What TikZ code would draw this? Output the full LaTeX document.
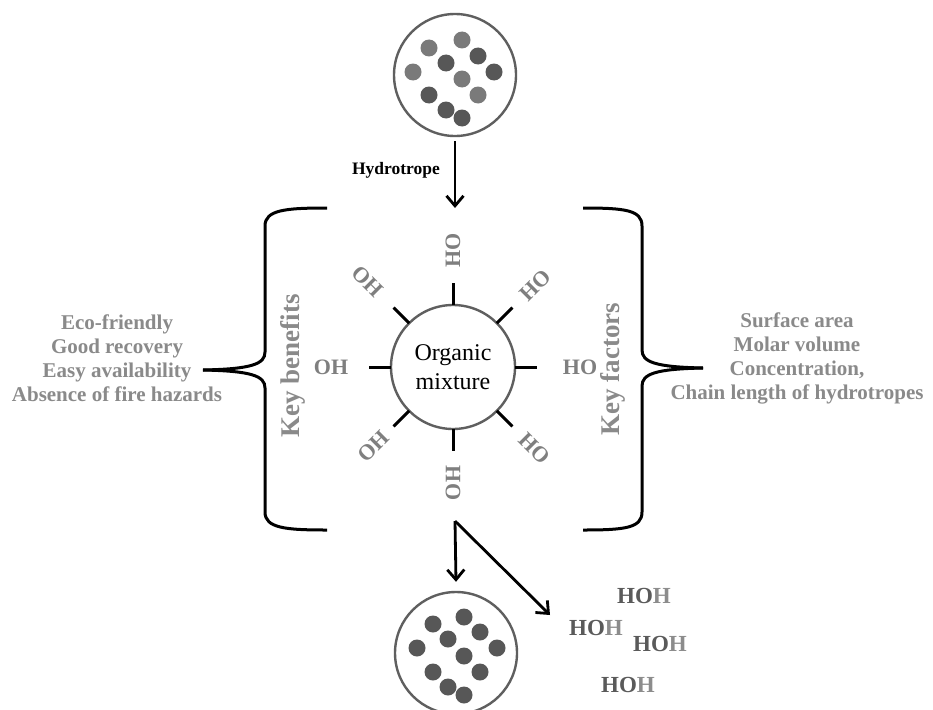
\documentclass[tikz,border=0pt]{standalone}
\usepackage{fontspec}
\setmainfont{Liberation Serif}
\usetikzlibrary{arrows.meta,calc}
\definecolor{lbl}{HTML}{7F7F7F}
\definecolor{txtg}{HTML}{8A8A8A}
\definecolor{dotl}{HTML}{7A7A7A}
\definecolor{dotd}{HTML}{575757}
\definecolor{ring}{HTML}{5F5F5F}
\definecolor{hohd}{HTML}{5A5A5A}
\definecolor{hohl}{HTML}{8C8C8C}
\begin{document}
\begin{tikzpicture}[x=1pt,y=-1pt,
  ringnode/.style={circle,draw=ring,line width=2.4pt,minimum size=122pt,inner sep=0pt},
  spoke/.style={line width=3pt,black},
  ohlabel/.style={text=lbl,font=\fontsize{22}{26}\selectfont\bfseries,inner sep=0pt},
  listtext/.style={text=txtg,font=\fontsize{21}{24}\selectfont\bfseries,align=center,inner sep=0pt},
  keytext/.style={text=txtg,font=\fontsize{27}{30}\selectfont\bfseries,inner sep=0pt,rotate=90},
  bracestyle/.style={line width=3pt,black},
  arr/.style={line width=2.8pt,black,-{Straight Barb[length=10pt,width=17pt,line width=2.8pt]}},
  hoh/.style={font=\fontsize{23}{26}\selectfont\bfseries,inner sep=0pt}
]
\useasboundingbox (0,0) rectangle (933,709);
\fill[white] (0,0) rectangle (933,709);

% top circle
\node[ringnode] (topc) at (455,75) {};
\begin{scope}[shift={(455,75)}]
  \foreach \dx/\dy/\c in {7/-35/dotl,-26/-27/dotl,23/-19/dotd,-9/-12/dotd,-42/-3/dotl,39/-3/dotd,7/4/dotl,-26/20/dotd,23/20/dotl,-9/35/dotd,7/43/dotd}
    \fill[\c] (\dx,\dy) circle[radius=8.5pt];
\end{scope}

% hydrotrope arrow
\coordinate (hyend) at (455,208);
\draw[arr,shorten <=4pt] (topc.south) -- (hyend);
\node[font=\fontsize{17.5}{20}\selectfont\bfseries,inner sep=0pt] (hydro) at (396,170) {Hydrotrope};

% central circle
\node[ringnode,minimum size=124pt,font=\fontsize{24}{29}\selectfont,align=center] (mid) at (453,367) {Organic\\mixture};
\foreach \a in {0,45,...,315}
  \draw[spoke] ($(mid)+(\a:62pt)$) -- ($(mid)+(\a:84pt)$);

% radial labels
\node[ohlabel,rotate=90] (l90) at ($(mid)+(90:117pt)$) {HO};
\node[ohlabel,rotate=45] (l45) at ($(mid)+(45:116pt)$) {HO};
\node[ohlabel] (l0) at ($(mid)+(0:127pt)$) {HO};
\node[ohlabel,rotate=-45] (l315) at ($(mid)+(-45:115pt)$) {HO};
\node[ohlabel,rotate=-90] (l270) at ($(mid)+(-90:116pt)$) {HO};
\node[ohlabel,rotate=45] (l225) at ($(mid)+(225:112pt)$) {OH};
\node[ohlabel] (l180) at ($(mid)+(180:122pt)$) {OH};
\node[ohlabel,rotate=-45] (l135) at ($(mid)+(135:121pt)$) {OH};

% left brace
\coordinate (lbtop) at (327,208);
\coordinate (lbbot) at (327,530);
\coordinate (lbtip) at (203,370);
\draw[bracestyle] (lbtop) .. controls (285,208) and (265,210) .. (265,226) -- (265,352)
   .. controls (265,364) and (252,369) .. (lbtip);
\draw[bracestyle] (lbbot) .. controls (285,530) and (265,528) .. (265,512) -- (265,388)
   .. controls (265,376) and (252,371) .. (lbtip);

% right brace
\coordinate (rbtop) at (583,208);
\coordinate (rbbot) at (583,530);
\coordinate (rbtip) at (703,368);
\draw[bracestyle] (rbtop) .. controls (625,208) and (642,210) .. (642,226) -- (642,350)
   .. controls (642,362) and (655,367) .. (rbtip);
\draw[bracestyle] (rbbot) .. controls (625,530) and (642,528) .. (642,512) -- (642,386)
   .. controls (642,374) and (655,369) .. (rbtip);

% key texts
\node[keytext] (kb) at (293,366) {Key benefits};
\node[keytext] (kf) at (613,369) {Key factors};

\node[listtext] (ben) at (117,358) {Eco-friendly\\Good recovery\\Easy availability\\Absence of fire hazards};
\node[listtext] (fac) at (797,358) {Surface area\\Molar volume\\Concentration,\\Chain length of hydrotropes};

% bottom
\coordinate (split) at (455,521);
\node[ringnode] (botc) at (456,653) {};
\begin{scope}[shift={(456,653)}]
  \foreach \dx/\dy in {8/-36,-23/-29,24/-21,-8/-14,-39/-5,41/-5,8/3,-23/19,24/19,-8/34,8/42}
    \fill[dotd] (\dx,\dy) circle[radius=8.5pt];
\end{scope}
\coordinate (diagend) at (550,615);
\draw[arr] (split) -- ($(botc.north)+(0,-9)$) coordinate (vend);
\draw[arr] (split) -- (diagend);

\node[hoh] (h1) at (644,596) {\textcolor{hohd}{HO}\textcolor{hohl}{H}};
\node[hoh] (h2) at (596,628) {\textcolor{hohd}{HO}\textcolor{hohl}{H}};
\node[hoh] (h3) at (660,644) {\textcolor{hohd}{HO}\textcolor{hohl}{H}};
\node[hoh] (h4) at (628,685) {\textcolor{hohd}{HO}\textcolor{hohl}{H}};
\end{tikzpicture}
\end{document}
